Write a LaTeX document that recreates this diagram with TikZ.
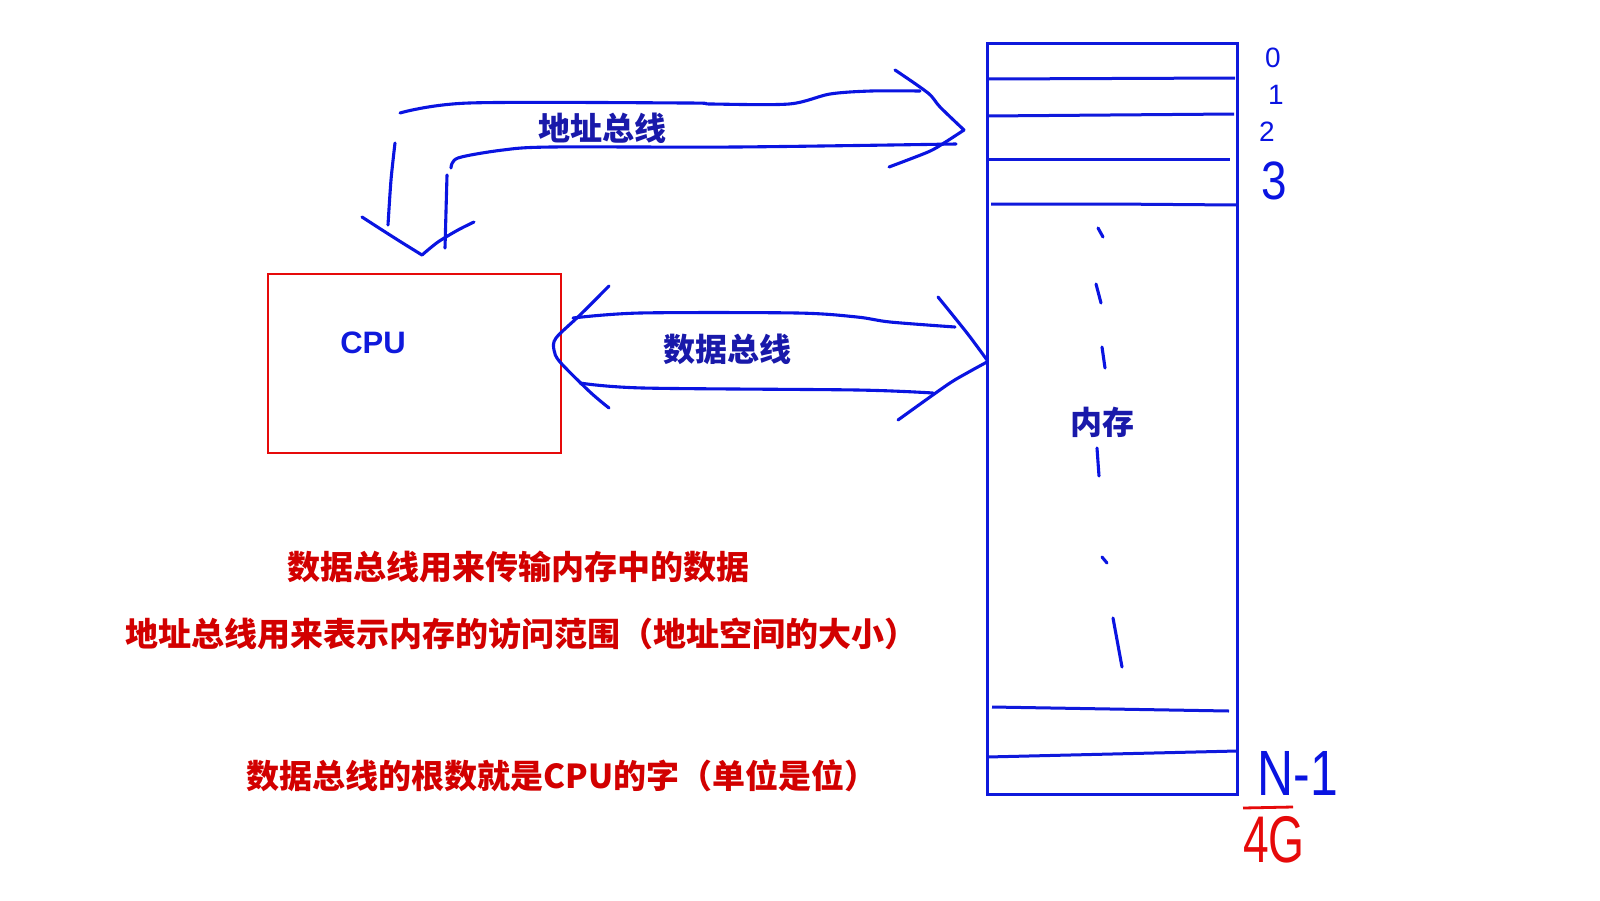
\documentclass[tikz,border=0pt]{standalone}
\usepackage{fontspec}
\setmainfont{Liberation Sans}
\newfontfamily\cjk{Noto Sans CJK SC}
\definecolor{penblue}{RGB}{10,20,225}
\definecolor{boxblue}{RGB}{15,25,220}
\definecolor{navy}{RGB}{25,25,170}
\definecolor{notered}{RGB}{210,0,0}
\definecolor{boxred}{RGB}{230,10,10}
\tikzset{
  hand/.style={draw=penblue, line width=3.1pt, line cap=round, line join=round},
  memline/.style={draw=boxblue, line width=3pt},
  buslabel/.style={text=navy, inner sep=0pt, font=\cjk\bfseries\fontsize{32}{36}\selectfont},
  note/.style={text=notered, inner sep=0pt, font=\cjk\bfseries\fontsize{33}{38}\selectfont},
  digit/.style={text=penblue, inner sep=0pt, font=\fontsize{28}{30}\selectfont},
}
\begin{document}
\begin{tikzpicture}[x=1pt,y=-1pt]
\fill[white] (0,0) rectangle (1600,900);
\useasboundingbox (0,0) rectangle (1600,900);

% CPU box
\node (cpu) [draw=boxred, line width=2.8pt, minimum width=293pt, minimum height=179pt, inner sep=0pt] at (414.5,363.5) {};
\node (cputxt) [text=boxblue, inner sep=0pt, font=\bfseries\fontsize{31}{34}\selectfont] at (373,343) {CPU};

% memory
\node (mem) [draw=boxblue, line width=3pt, minimum width=250pt, minimum height=751pt, inner sep=0pt] at (1112,418.5) {};
\draw[memline] (987,79) -- (1235,78);
\draw[memline] (987,116) -- (1110,115) -- (1234,114);
\draw[memline] (987,159) -- (1230,159);
\draw[memline] (991,204) -- (1110,204) -- (1237,205);
\draw[memline] (992,707) -- (1229,711);
\draw[memline] (987,757) -- (1237,751);
\node (memtxt) [buslabel] at (1102,422) {内存};
% dashes in memory
\draw[hand] (1098,228) -- (1103,237);
\draw[hand] (1096,284) -- (1101,303);
\draw[hand] (1102,347) -- (1105,368);
\draw[hand] (1097,448) -- (1099,476);
\draw[hand] (1102,557) -- (1107,563);
\draw[hand] (1113,618) -- (1122,667);

% address labels
\node (d0) [digit] at (1273,58) {0};
\node (d1) [digit] at (1276,95) {1};
\node (d2) [digit] at (1267,132) {2};
\node (d3) [digit, xscale=0.85, transform shape, font=\fontsize{54}{56}\selectfont] at (1274,181) {3};
\node (dn) [text=penblue, inner sep=0pt, xscale=0.78, transform shape, font=\fontsize{64}{66}\selectfont] at (1298,773) {N-1};
\node (g4) [text=boxred, inner sep=0pt, xscale=0.7, transform shape, font=\fontsize{66}{68}\selectfont] at (1274,840) {4G};
\draw[draw=boxred, line width=2.8pt] (1243,808) -- (1293,807);

% address bus
\draw[hand] plot[smooth, tension=0.5] coordinates {(400,113) (469,103) (687,103) (711,104) (789,104) (830,94) (871,91) (920,91)};
\draw[hand] plot[smooth, tension=0.5] coordinates {(895,70) (928,93) (940,107) (964,130)};
\draw[hand] plot[smooth, tension=0.5] coordinates {(964,130) (944,143) (928,152) (889,167)};
\draw[hand] plot[smooth, tension=0.5] coordinates {(956,144) (736,147) (552,147) (503,150) (458,158) (451,168)};
\draw[hand] plot[smooth, tension=0.5] coordinates {(395,143) (391,180) (388,225)};
\draw[hand] (447,175) -- (445,248);
\draw[hand] plot[smooth, tension=0.5] coordinates {(362,217) (379,228) (401,242) (422,255)};
\draw[hand] plot[smooth, tension=0.5] coordinates {(422,255) (438,242) (458,230) (474,222)};
\node (abus) [buslabel] at (602,128) {地址总线};

% data bus
\draw[hand] plot[smooth, tension=0.5] coordinates {(573,318) (640,313) (797,313) (857,317) (890,322) (955,327)};
\draw[hand] plot[smooth, tension=0.5] coordinates {(580,383) (643,388) (857,390) (933,393)};
\draw[hand] plot[smooth, tension=0.5] coordinates {(609,286) (580,315) (556,338) (554,350) (560,362) (590,392) (609,408)};
\draw[hand] plot[smooth, tension=0.5] coordinates {(938,297) (967,333) (987,360)};
\draw[hand] plot[smooth, tension=0.5] coordinates {(987,362) (967,373) (947,385) (898,420)};
\node (dbus) [buslabel] at (727,349) {数据总线};

% notes
\node (n1) [note] at (518,567) {数据总线用来传输内存中的数据};
\node (n2) [note] at (521,634) {地址总线用来表示内存的访问范围（地址空间的大小）};
\node (n3) [note] at (562,776) {数据总线的根数就是CPU的字（单位是位）};
\end{tikzpicture}
\end{document}
